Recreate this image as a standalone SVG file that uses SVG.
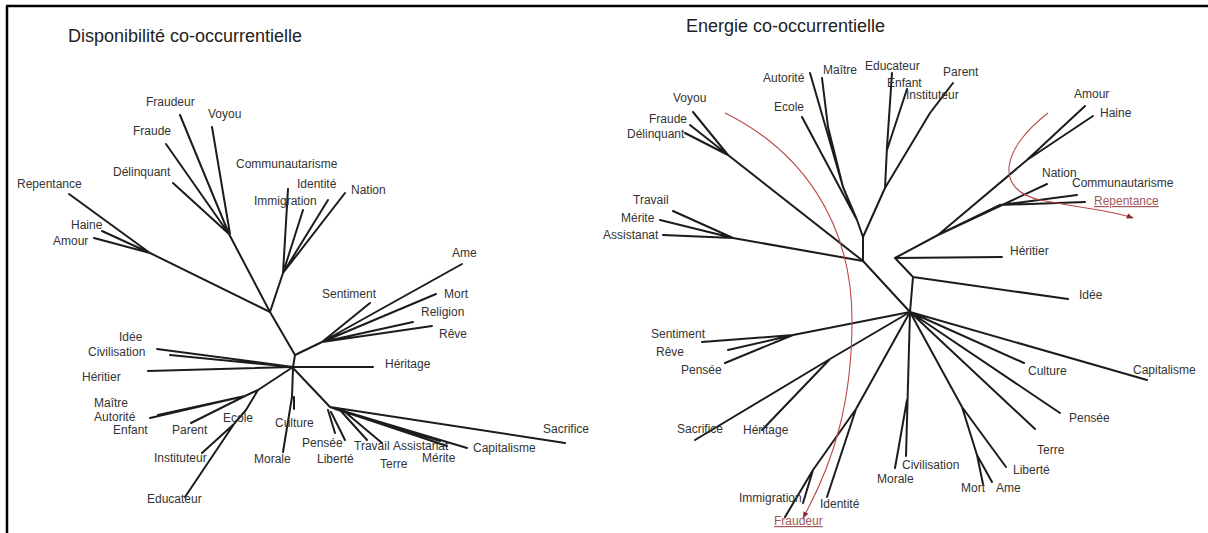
<svg xmlns="http://www.w3.org/2000/svg" width="1208" height="533" viewBox="0 0 1208 533">
<defs>
<style>
.lbl{font-family:"Liberation Sans",Arial,sans-serif;font-size:12px;fill:#333}
.ttl{font-family:"Liberation Sans",Arial,sans-serif;font-size:18px;fill:#222}
.red{font-family:"Liberation Sans",Arial,sans-serif;font-size:12px;fill:#a05a5a;text-decoration:underline}
.e{fill:none;stroke:#1c1c1c;stroke-width:2;stroke-linecap:round;stroke-linejoin:round}
.cv{fill:none;stroke:#b84a4a;stroke-width:1.1}
.frame{stroke:#000;stroke-width:2.5}
</style>
<marker id="ah" viewBox="0 0 10 10" refX="9" refY="5" markerWidth="7" markerHeight="7" orient="auto" markerUnits="userSpaceOnUse">
<path d="M0,1 L10,5 L0,9 Z" fill="#8a2a2a"/>
</marker>
</defs>
<rect width="1208" height="533" fill="#fff"/>
<line class="frame" x1="6" y1="6" x2="1208" y2="6"/>
<line class="frame" x1="7" y1="6" x2="7" y2="533"/>

<text class="ttl" x="68" y="42">Disponibilité co-occurrentielle</text>
<text class="ttl" x="686" y="32">Energie co-occurrentielle</text>

<g id="connectors">
<!-- left tree -->
<path class="e" d="M180,115 L229,234 M212,127 L230,234 M166,144 L229,234 M173,183 L229,234 M229,234 L270,312"/>
<path class="e" d="M69,194 L150,253 M102,231 L150,253 M94,238 L150,253 M150,253 L270,312"/>
<path class="e" d="M270,312 L283,273 L288,189 M283,273 L303,210 M283,273 L328,200 M283,273 L345,193"/>
<path class="e" d="M270,312 L295,355 L322,342 M322,342 L462,264 M322,342 L370,303 M322,342 L436,294 M322,342 L413,322 M322,342 L432,326"/>
<path class="e" d="M295,355 L293,367 L373,367 M148,371 L293,367 M157,349 L293,367 M170,355 L293,367"/>
<path class="e" d="M293,367 L258,390 L245,396 L150,418 M245,396 L158,415 M245,396 L168,413 M245,396 L191,423 M258,390 L246,410 L234,424 L185,497 M234,424 L202,453"/>
<path class="e" d="M293,368 L292,397 L283,452 M294,397 L294,409"/>
<path class="e" d="M294,369 L330,407 L565,443 M330,407 L467,448 M330,407 L447,446 M335,409 L440,441 M345,412 L382,443 M340,410 L367,440 M328,410 L335,433 M331,412 L345,440"/>
<!-- right tree -->
<path class="e" d="M693,112 L728,155 M690,125 L728,155 M685,133 L728,155 M728,155 L863,261"/>
<path class="e" d="M673,211 L733,238 M660,220 L733,238 M663,235 L733,238 M733,238 L863,261"/>
<path class="e" d="M863,261 L863,237 L857,220 L843,187 L810,73 M843,187 L828,127 L822,78 M857,220 L802,117"/>
<path class="e" d="M863,237 L885,188 L887,147 L892,73 M887,150 L907,89 M885,188 L930,113 L953,83 M930,113 L946,92"/>
<path class="e" d="M863,261 L910,312 L913,277 L1068,299 M913,277 L895,258 L1002,257 M895,258 L938,235 L1047,184 M938,235 L1000,205 L1077,195 M1000,205 L1085,202 M938,235 L1027,160 L1085,106 M1027,160 L1093,116"/>
<path class="e" d="M910,312 L793,335 L702,342 M793,335 L728,350 M793,335 L725,363"/>
<path class="e" d="M910,312 L830,359 L695,440 M830,359 L762,430"/>
<path class="e" d="M910,312 L856,409 L813,470 L785,517 M813,470 L803,503 M856,409 L827,497"/>
<path class="e" d="M910,312 L906,456 M907,400 L895,468"/>
<path class="e" d="M910,312 L962,407 L1006,467 M962,407 L977,455 L983,484 M977,455 L992,482"/>
<path class="e" d="M910,312 L1035,429 M910,312 L1060,413 M910,312 L1024,363 M910,312 L1147,380"/>
<!-- red annotation curves -->
<path class="cv" d="M725,113 C800,150 852,220 852,320 C852,400 835,460 803,518" marker-end="url(#ah)"/>
<path class="cv" d="M1048,113 C1000,150 995,190 1040,200 C1080,208 1110,210 1133,218" marker-end="url(#ah)"/>
</g>

<!-- left panel labels -->
<g id="L-Fraudeur"><text class="lbl" x="146" y="106">Fraudeur</text></g>
<g id="L-Voyou"><text class="lbl" x="208" y="118">Voyou</text></g>
<g id="L-Fraude"><text class="lbl" x="133" y="135">Fraude</text></g>
<g id="L-Delinquant"><text class="lbl" x="113" y="176">Délinquant</text></g>
<g id="L-Repentance"><text class="lbl" x="17" y="188">Repentance</text></g>
<g id="L-Communautarisme"><text class="lbl" x="236" y="168">Communautarisme</text></g>
<g id="L-Identite"><text class="lbl" x="297" y="188">Identité</text></g>
<g id="L-Immigration"><text class="lbl" x="254" y="205">Immigration</text></g>
<g id="L-Nation"><text class="lbl" x="351" y="194">Nation</text></g>
<g id="L-Haine"><text class="lbl" x="71" y="229">Haine</text></g>
<g id="L-Amour"><text class="lbl" x="53" y="245">Amour</text></g>
<g id="L-Ame"><text class="lbl" x="452" y="257">Ame</text></g>
<g id="L-Sentiment"><text class="lbl" x="322" y="298">Sentiment</text></g>
<g id="L-Mort"><text class="lbl" x="444" y="298">Mort</text></g>
<g id="L-Religion"><text class="lbl" x="421" y="316">Religion</text></g>
<g id="L-Reve"><text class="lbl" x="439" y="338">Rêve</text></g>
<g id="L-Heritage"><text class="lbl" x="385" y="368">Héritage</text></g>
<g id="L-Idee"><text class="lbl" x="119" y="341">Idée</text></g>
<g id="L-Civilisation"><text class="lbl" x="88" y="356">Civilisation</text></g>
<g id="L-Heritier"><text class="lbl" x="82" y="381">Héritier</text></g>
<g id="L-Maitre"><text class="lbl" x="94" y="407">Maître</text></g>
<g id="L-Autorite"><text class="lbl" x="94" y="421">Autorité</text></g>
<g id="L-Enfant"><text class="lbl" x="113" y="434">Enfant</text></g>
<g id="L-Parent"><text class="lbl" x="172" y="434">Parent</text></g>
<g id="L-Ecole"><text class="lbl" x="223" y="422">Ecole</text></g>
<g id="L-Instituteur"><text class="lbl" x="154" y="462">Instituteur</text></g>
<g id="L-Educateur"><text class="lbl" x="147" y="503">Educateur</text></g>
<g id="L-Culture"><text class="lbl" x="275" y="427">Culture</text></g>
<g id="L-Morale"><text class="lbl" x="254" y="463">Morale</text></g>
<g id="L-Pensee"><text class="lbl" x="302" y="447">Pensée</text></g>
<g id="L-Liberte"><text class="lbl" x="317" y="463">Liberté</text></g>
<g id="L-Travail"><text class="lbl" x="354" y="450">Travail</text></g>
<g id="L-Terre"><text class="lbl" x="380" y="468">Terre</text></g>
<g id="L-Assistanat"><text class="lbl" x="393" y="450">Assistanat</text></g>
<g id="L-Merite"><text class="lbl" x="422" y="462">Mérite</text></g>
<g id="L-Capitalisme"><text class="lbl" x="473" y="452">Capitalisme</text></g>
<g id="L-Sacrifice"><text class="lbl" x="543" y="433">Sacrifice</text></g>

<!-- right panel labels -->
<g id="R-Autorite"><text class="lbl" x="763" y="82">Autorité</text></g>
<g id="R-Maitre"><text class="lbl" x="823" y="74">Maître</text></g>
<g id="R-Educateur"><text class="lbl" x="865" y="70">Educateur</text></g>
<g id="R-Enfant"><text class="lbl" x="887" y="87">Enfant</text></g>
<g id="R-Instituteur"><text class="lbl" x="906" y="99">Instituteur</text></g>
<g id="R-Parent"><text class="lbl" x="943" y="76">Parent</text></g>
<g id="R-Ecole"><text class="lbl" x="774" y="111">Ecole</text></g>
<g id="R-Voyou"><text class="lbl" x="673" y="102">Voyou</text></g>
<g id="R-Fraude"><text class="lbl" x="649" y="123">Fraude</text></g>
<g id="R-Delinquant"><text class="lbl" x="627" y="138">Délinquant</text></g>
<g id="R-Travail"><text class="lbl" x="633" y="204">Travail</text></g>
<g id="R-Merite"><text class="lbl" x="621" y="222">Mérite</text></g>
<g id="R-Assistanat"><text class="lbl" x="603" y="239">Assistanat</text></g>
<g id="R-Amour"><text class="lbl" x="1074" y="98">Amour</text></g>
<g id="R-Haine"><text class="lbl" x="1100" y="117">Haine</text></g>
<g id="R-Nation"><text class="lbl" x="1042" y="177">Nation</text></g>
<g id="R-Communautarisme"><text class="lbl" x="1072" y="187">Communautarisme</text></g>
<g id="R-Repentance"><text class="red" x="1094" y="205">Repentance</text></g>
<g id="R-Heritier"><text class="lbl" x="1010" y="255">Héritier</text></g>
<g id="R-Idee"><text class="lbl" x="1079" y="299">Idée</text></g>
<g id="R-Sentiment"><text class="lbl" x="651" y="338">Sentiment</text></g>
<g id="R-Reve"><text class="lbl" x="656" y="356">Rêve</text></g>
<g id="R-Pensee1"><text class="lbl" x="681" y="374">Pensée</text></g>
<g id="R-Culture"><text class="lbl" x="1028" y="375">Culture</text></g>
<g id="R-Capitalisme"><text class="lbl" x="1133" y="374">Capitalisme</text></g>
<g id="R-Pensee2"><text class="lbl" x="1069" y="422">Pensée</text></g>
<g id="R-Sacrifice"><text class="lbl" x="677" y="433">Sacrifice</text></g>
<g id="R-Heritage"><text class="lbl" x="743" y="434">Héritage</text></g>
<g id="R-Terre"><text class="lbl" x="1037" y="454">Terre</text></g>
<g id="R-Civilisation"><text class="lbl" x="902" y="469">Civilisation</text></g>
<g id="R-Liberte"><text class="lbl" x="1013" y="474">Liberté</text></g>
<g id="R-Morale"><text class="lbl" x="877" y="483">Morale</text></g>
<g id="R-Mort"><text class="lbl" x="961" y="492">Mort</text></g>
<g id="R-Ame"><text class="lbl" x="996" y="492">Ame</text></g>
<g id="R-Immigration"><text class="lbl" x="739" y="502">Immigration</text></g>
<g id="R-Identite"><text class="lbl" x="820" y="508">Identité</text></g>
<g id="R-Fraudeur"><text class="red" x="774" y="525">Fraudeur</text></g>
</svg>
